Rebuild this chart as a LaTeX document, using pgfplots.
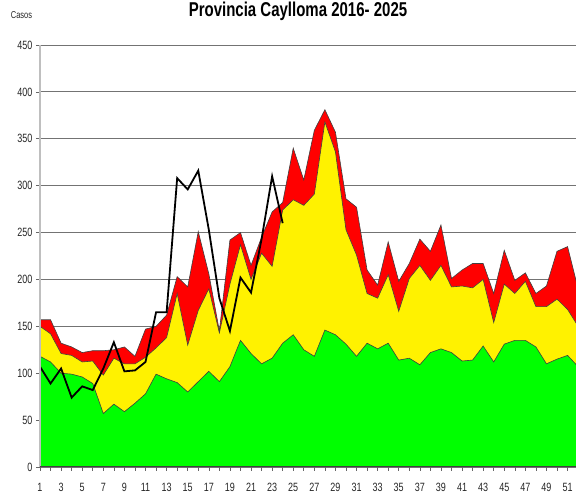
\documentclass[border=0pt]{standalone}
\usepackage{fontspec}
\setmainfont{Liberation Sans}
\newfontfamily\narrow[FakeStretch=0.75]{Liberation Sans}
\usepackage{pgfplots}
\pgfplotsset{compat=1.18}
\usepackage{pgfplotstable}

% semana, zona de exito (verde), seguridad (amarillo), alarma (rojo)
\pgfplotstableread{
w green yellow red
1  118 150 157
2  112 142 157
3  100 121 132
4  99  119 128
5  96  112 122
6  89  113 124
7  57  98  124
8  67  116 125
9  59  110 128
10 68  110 118
11 78  117 147
12 99  127 150
13 94  138 162
14 90  185 203
15 80  130 192
16 91  167 251
17 102 190 206
18 91  143 145
19 107 195 242
20 135 237 250
21 121 200 215
22 110 228 245
23 116 214 272
24 132 274 282
25 141 285 340
26 125 279 306
27 118 291 359
28 146 368 381
29 141 336 357
30 131 253 286
31 118 226 277
32 132 185 210
33 126 180 194
34 132 205 240
35 114 166 198
36 116 201 217
37 109 215 243
38 122 199 230
39 126 215 258
40 122 192 201
41 113 193 210
42 114 191 217
43 129 200 217
44 112 154 185
45 131 195 231
46 135 185 199
47 135 198 207
48 128 171 185
49 110 171 193
50 115 179 230
51 119 168 235
52 107 150 190
}\canal

% casos 2025
\pgfplotstableread{
w c
1  107
2  89
3  105
4  74
5  86
6  82
7  105
8  133
9  102
10 103
11 112
12 165
13 165
14 308
15 296
16 316
17 253
18 180
19 145
20 202
21 186
22 243
23 310
24 260
}\casos

\begin{document}
\begin{tikzpicture}
\begin{axis}[
  scale only axis,
  width=536pt, height=422pt,
  xmin=1, xmax=51.8,
  ymin=0, ymax=450,
  axis x line=bottom, axis y line=left,
  axis line style={draw=none},
  xtick={1,3,...,51},
  minor xtick={2,4,...,52},
  ytick={0,50,...,450},
  tick align=outside,
  major tick length=4pt, minor tick length=4pt,
  tick style={black!60, line width=0.6pt},
  ymajorgrids,
  major grid style={black!55, line width=0.9pt},
  /pgf/number format/assume math mode=true,
  tick label style={font=\narrow\fontsize{12}{13}\selectfont, text=black!85},
  yticklabel style={xshift=0pt},
  xticklabel style={yshift=-9pt},
]
\addplot[fill=red, draw=none] table[x=w, y=red]{\canal} \closedcycle;
\addplot[fill=yellow, draw=none] table[x=w, y=yellow]{\canal} \closedcycle;
\addplot[fill=green, draw=none] table[x=w, y=green]{\canal} \closedcycle;
\addplot[black!75, line width=0.6pt] table[x=w, y=red]{\canal};
\addplot[black!75, line width=0.6pt] table[x=w, y=yellow]{\canal};
\addplot[black!75, line width=0.6pt] table[x=w, y=green]{\canal};
\addplot[black, line width=1.8pt, line join=miter] table[x=w, y=c]{\casos};
\coordinate (ll) at (rel axis cs:0,0);
\coordinate (lr) at (rel axis cs:1,0);
\coordinate (ul) at (rel axis cs:0,1);
\coordinate (ur) at (rel axis cs:1,1);
\coordinate (tt) at (rel axis cs:0.5,1);
\end{axis}
\draw[black!25, line width=1.6pt] (ll) -- (ul);
\draw[black!75, line width=1pt] (ll) -- (lr);
\node[font=\narrow\fontsize{10}{11}\selectfont, text=black!85] at ([shift={(-18.5pt,30pt)}]ul) {Casos};
\node[font=\narrow\bfseries\fontsize{20}{22}\selectfont, anchor=base] at ([shift={(-10pt,28pt)}]tt) {Provincia Caylloma 2016- 2025};
\pgfresetboundingbox
\path ([shift={(-40pt,-35pt)}]ll) rectangle ([shift={(0pt,45pt)}]ur);
\end{tikzpicture}
\end{document}
